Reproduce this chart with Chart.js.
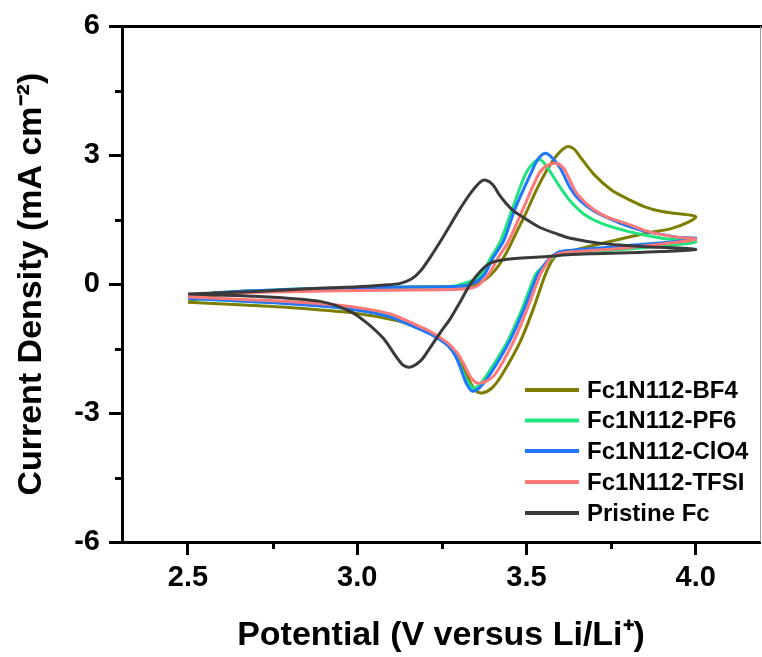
<!DOCTYPE html>
<html>
<head>
<meta charset="utf-8">
<script src="https://cdn.jsdelivr.net/npm/chart.js@4.4.0/dist/chart.umd.min.js"></script>
<style>
  html, body { margin: 0; padding: 0; background: #fff; }
  #wrap { width: 762px; height: 657px; }
</style>
</head>
<body>
<div id="wrap"><canvas id="cv" width="762" height="657"></canvas></div>
<script>
// series names (legend order)
const seriesNames = ['Fc1N112-BF4', 'Fc1N112-PF6', 'Fc1N112-ClO4', 'Fc1N112-TFSI', 'Pristine Fc'];
const seriesColors = ['#7d7d00', '#1ee57d', '#1f77ff', '#ff7878', '#3a3a3a'];

// axis ticks
const xTicks = [2.5, 3.0, 3.5, 4.0];
const xMinorTicks = [2.75, 3.25, 3.75];
const yTicks = [-6, -3, 0, 3, 6];
const yMinorTicks = [-4.5, -1.5, 1.5, 4.5];

// Fc1N112-BF4 : potential (V) and current density (mA cm-2), forward then reverse sweep
const bf4V = [2.50, 2.56, 2.70, 2.90, 3.10, 3.30, 3.35, 3.38, 3.41, 3.44, 3.47, 3.50, 3.53, 3.56, 3.59, 3.62, 3.64, 3.66, 3.70, 3.75, 3.80, 3.85, 3.90, 3.95, 4.00,
              3.98, 3.93, 3.85, 3.75, 3.65, 3.60, 3.58, 3.556, 3.521, 3.482, 3.429, 3.40, 3.37, 3.35, 3.335, 3.315, 3.28, 3.23, 3.18, 3.12, 3.00, 2.83, 2.68, 2.50];
const bf4I = [-0.42, -0.28, -0.17, -0.10, -0.07, -0.05, 0.00, 0.12, 0.35, 0.72, 1.20, 1.68, 2.20, 2.65, 3.00, 3.20, 3.15, 2.95, 2.55, 2.20, 1.98, 1.80, 1.69, 1.64, 1.57,
              1.45, 1.30, 1.18, 1.00, 0.81, 0.71, 0.60, 0.23, -0.56, -1.33, -2.09, -2.40, -2.53, -2.48, -2.30, -1.98, -1.52, -1.20, -1.02, -0.85, -0.68, -0.56, -0.49, -0.42];

// Fc1N112-PF6
const pf6V = [2.50, 2.56, 2.70, 2.90, 3.10, 3.28, 3.32, 3.35, 3.367, 3.395, 3.423, 3.459, 3.497, 3.52, 3.541, 3.565, 3.60, 3.63, 3.67, 3.72, 3.80, 3.90, 4.00,
              3.97, 3.80, 3.65, 3.60, 3.57, 3.55, 3.527, 3.488, 3.444, 3.385, 3.36, 3.343, 3.325, 3.305, 3.29, 3.266, 3.216, 3.166, 3.10, 3.03, 2.93, 2.83, 2.68, 2.50];
const pf6I = [-0.33, -0.22, -0.15, -0.10, -0.07, -0.05, 0.03, 0.12, 0.23, 0.62, 1.00, 1.77, 2.56, 2.82, 2.90, 2.68, 2.25, 1.93, 1.63, 1.42, 1.23, 1.07, 0.99,
              0.94, 0.82, 0.74, 0.70, 0.58, 0.42, 0.23, -0.56, -1.33, -2.09, -2.35, -2.42, -2.25, -1.92, -1.65, -1.40, -1.14, -0.97, -0.75, -0.63, -0.53, -0.46, -0.40, -0.33];

// Fc1N112-ClO4
const clo4V = [2.50, 2.56, 2.70, 2.90, 3.10, 3.30, 3.345, 3.376, 3.40, 3.432, 3.467, 3.512, 3.535, 3.556, 3.575, 3.60, 3.63, 3.66, 3.70, 3.75, 3.80, 3.85, 3.90, 3.95, 4.00,
               3.97, 3.80, 3.65, 3.60, 3.57, 3.55, 3.533, 3.494, 3.45, 3.393, 3.36, 3.34, 3.322, 3.305, 3.29, 3.266, 3.216, 3.166, 3.10, 3.03, 2.93, 2.83, 2.68, 2.50];
const clo4I = [-0.33, -0.22, -0.15, -0.10, -0.07, -0.05, 0.03, 0.23, 0.60, 1.00, 1.77, 2.56, 2.92, 3.05, 2.95, 2.70, 2.23, 1.93, 1.70, 1.51, 1.35, 1.23, 1.16, 1.09, 1.07,
               1.02, 0.90, 0.80, 0.76, 0.62, 0.42, 0.23, -0.56, -1.33, -2.09, -2.42, -2.49, -2.30, -1.95, -1.67, -1.42, -1.16, -0.98, -0.77, -0.64, -0.53, -0.47, -0.40, -0.33];

// Fc1N112-TFSI
const tfsiV = [2.50, 2.56, 2.70, 2.90, 3.10, 3.30, 3.35, 3.388, 3.415, 3.447, 3.491, 3.536, 3.56, 3.59, 3.61, 3.625, 3.651, 3.698, 3.749, 3.80, 3.846, 3.896, 3.95, 4.00,
               3.97, 3.80, 3.65, 3.60, 3.57, 3.555, 3.541, 3.503, 3.462, 3.408, 3.38, 3.355, 3.335, 3.315, 3.295, 3.266, 3.216, 3.166, 3.10, 3.03, 2.93, 2.83, 2.68, 2.50];
const tfsiI = [-0.30, -0.24, -0.19, -0.16, -0.14, -0.12, -0.06, 0.23, 0.60, 1.00, 1.77, 2.56, 2.76, 2.81, 2.70, 2.47, 2.09, 1.74, 1.53, 1.40, 1.26, 1.16, 1.09, 1.05,
               1.00, 0.85, 0.76, 0.72, 0.60, 0.42, 0.23, -0.56, -1.33, -2.09, -2.26, -2.30, -2.16, -1.86, -1.60, -1.36, -1.10, -0.92, -0.70, -0.58, -0.48, -0.42, -0.36, -0.30];

// Pristine Fc
const fcV = [2.50, 2.70, 2.90, 3.00, 3.08, 3.127, 3.16, 3.186, 3.215, 3.246, 3.275, 3.305, 3.335, 3.364, 3.38, 3.40, 3.42, 3.44, 3.46, 3.49, 3.54, 3.59, 3.63, 3.72, 3.84, 4.00,
             3.90, 3.80, 3.70, 3.63, 3.571, 3.444, 3.393, 3.364, 3.334, 3.305, 3.275, 3.246, 3.215, 3.19, 3.157, 3.135, 3.118, 3.077, 3.03, 2.979, 2.89, 2.70, 2.50];
const fcI = [-0.23, -0.17, -0.09, -0.06, -0.02, 0.02, 0.12, 0.30, 0.62, 1.00, 1.38, 1.77, 2.12, 2.38, 2.42, 2.32, 2.08, 1.88, 1.72, 1.56, 1.32, 1.17, 1.07, 0.95, 0.88, 0.81,
             0.76, 0.73, 0.71, 0.69, 0.65, 0.58, 0.49, 0.30, 0.00, -0.40, -0.80, -1.12, -1.48, -1.76, -1.93, -1.88, -1.72, -1.26, -0.91, -0.63, -0.40, -0.28, -0.23];

const seriesV = [bf4V, pf6V, clo4V, tfsiV, fcV];
const seriesI = [bf4I, pf6I, clo4I, tfsiI, fcI];
// draw order: lower number drawn on top
const drawOrder = [4, 3, 2, 1, 0];

function toPoints(vs, is) {
    return vs.map(function (v, i) { return { x: v, y: is[i] }; });
}

const FONT = "'Liberation Sans', Arial, sans-serif";
Chart.defaults.font.family = FONT;
Chart.defaults.color = '#000';

const datasets = seriesNames.map(function (name, k) {
    return {
        label: name,
        data: toPoints(seriesV[k], seriesI[k]),
        borderColor: seriesColors[k],
        backgroundColor: seriesColors[k],
        borderWidth: 3,
        pointRadius: 0,
        tension: 0.3,
        fill: false,
        order: drawOrder[k]
    };
});

// frame, minor ticks and legend
const extras = {
    id: 'extras',
    afterDraw: function (chart) {
        const ctx = chart.ctx;
        const area = chart.chartArea;
        const xs = chart.scales.x;
        const ys = chart.scales.y;
        ctx.save();

        // top frame line
        ctx.strokeStyle = '#000';
        ctx.lineWidth = 3;
        ctx.beginPath();
        ctx.moveTo(area.left - 1.5, area.top);
        ctx.lineTo(chart.width, area.top);
        ctx.stroke();

        // right frame line
        ctx.strokeStyle = '#9a9a9a';
        ctx.lineWidth = 1;
        ctx.beginPath();
        ctx.moveTo(area.right + 0.5, area.top);
        ctx.lineTo(area.right + 0.5, area.bottom);
        ctx.stroke();

        // minor ticks
        ctx.strokeStyle = '#000';
        ctx.lineWidth = 3;
        yMinorTicks.forEach(function (v) {
            const py = Math.round(ys.getPixelForValue(v)) + 0.5;
            ctx.beginPath();
            ctx.moveTo(area.left - 7, py);
            ctx.lineTo(area.left, py);
            ctx.stroke();
        });
        xMinorTicks.forEach(function (v) {
            const px = Math.round(xs.getPixelForValue(v)) + 0.5;
            ctx.beginPath();
            ctx.moveTo(px, area.bottom);
            ctx.lineTo(px, area.bottom + 7);
            ctx.stroke();
        });

        // legend
        const rowY = [390, 420.5, 451, 482, 513];
        ctx.font = 'bold 24px ' + FONT;
        ctx.textBaseline = 'middle';
        ctx.textAlign = 'left';
        seriesNames.forEach(function (name, k) {
            ctx.strokeStyle = seriesColors[k];
            ctx.lineWidth = 4;
            ctx.beginPath();
            ctx.moveTo(525, rowY[k]);
            ctx.lineTo(579, rowY[k]);
            ctx.stroke();
            ctx.fillStyle = '#000';
            ctx.fillText(name, 587, rowY[k] + 1);
        });
        ctx.restore();
    }
};

new Chart(document.getElementById('cv'), {
    type: 'line',
    data: { datasets: datasets },
    options: {
        responsive: false,
        animation: false,
        layout: { padding: { top: 25, right: 2, left: 0, bottom: 0 } },
        plugins: {
            legend: { display: false },
            tooltip: { enabled: false }
        },
        scales: {
            x: {
                type: 'linear',
                min: 2.305,
                max: 4.19,
                afterBuildTicks: function (s) { s.ticks = xTicks.map(function (v) { return { value: v }; }); },
                afterFit: function (s) { s.height = 115; },
                ticks: {
                    callback: function (v) { return v.toFixed(1); },
                    font: { size: 29, weight: 'bold' },
                    color: '#000',
                    padding: 6,
                    maxRotation: 0,
                    autoSkip: false
                },
                grid: { drawOnChartArea: false, tickLength: 13, tickWidth: 3, tickColor: '#000' },
                border: { width: 3, color: '#000' },
                title: {
                    display: true,
                    text: 'Potential (V versus Li/Li\u207A)',
                    font: { size: 34, weight: 'bold', lineHeight: 1 },
                    color: '#000',
                    padding: { top: 0, bottom: 4 }
                }
            },
            y: {
                type: 'linear',
                min: -6,
                max: 6,
                afterBuildTicks: function (s) { s.ticks = yTicks.map(function (v) { return { value: v }; }); },
                afterFit: function (s) { s.width = 122; },
                ticks: {
                    callback: function (v) { return String(v); },
                    font: { size: 29, weight: 'bold' },
                    color: '#000',
                    padding: 9
                },
                grid: { drawOnChartArea: false, tickLength: 13, tickWidth: 3, tickColor: '#000' },
                border: { width: 3, color: '#000' },
                title: {
                    display: true,
                    text: 'Current Density (mA cm\u207B\u00B2)',
                    font: { size: 34, weight: 'bold', lineHeight: 1 },
                    color: '#000',
                    padding: { top: 15, bottom: 0 }
                }
            }
        }
    },
    plugins: [extras]
});
</script>
</body>
</html>
